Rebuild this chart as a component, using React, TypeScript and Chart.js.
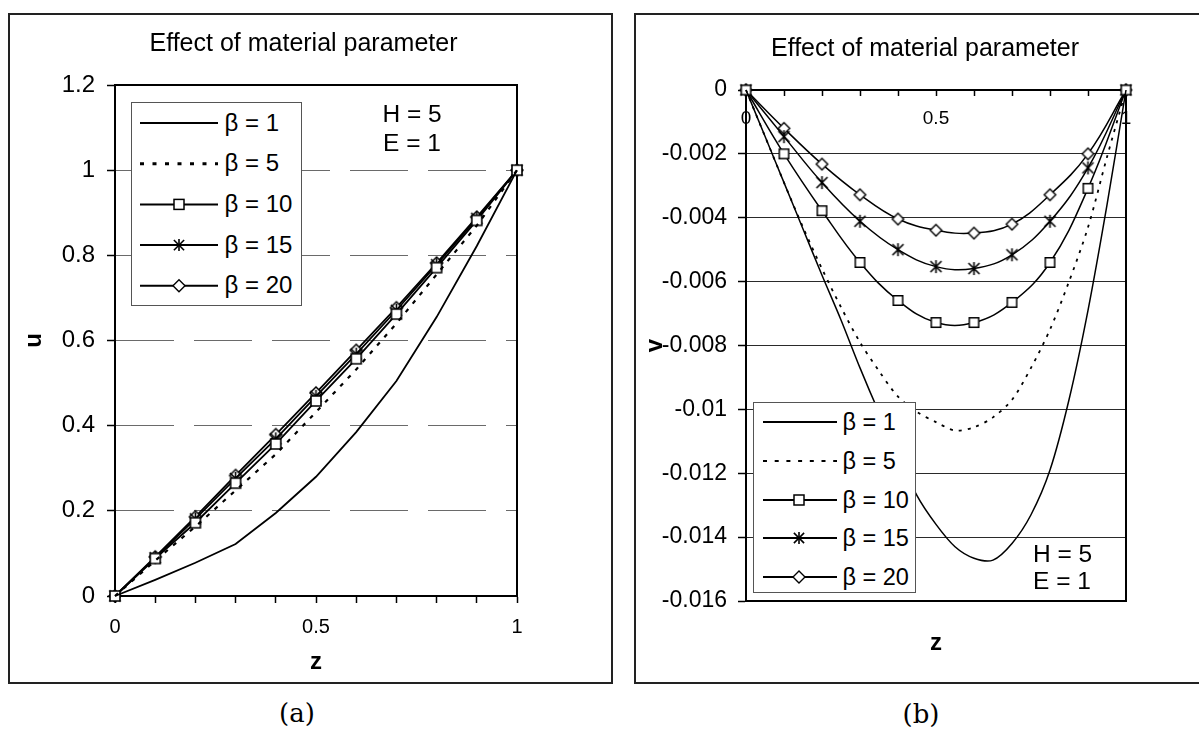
import React, { useEffect, useRef } from 'react';
import { Chart, registerables } from 'chart.js';

Chart.register(...registerables);

const FONT = "'Liberation Sans', Arial, Helvetica, sans-serif";
const TITLE = 'Effect of material parameter';
const SERIES_LABELS = ['β = 1', 'β = 5', 'β = 10', 'β = 15', 'β = 20'];

// ---- (a) u versus z ----
const Z_A = [0, 0.1, 0.2, 0.3, 0.4, 0.5, 0.6, 0.7, 0.8, 0.9, 1];
const U_B1 = [0, 0.038, 0.078, 0.122, 0.195, 0.28, 0.385, 0.505, 0.655, 0.822, 1];
const U_B5 = [0, 0.083, 0.163, 0.248, 0.333, 0.432, 0.532, 0.64, 0.755, 0.87, 1];
const U_B10 = [0, 0.088, 0.172, 0.265, 0.357, 0.458, 0.557, 0.662, 0.771, 0.882, 1];
const U_B15 = [0, 0.09, 0.181, 0.276, 0.369, 0.469, 0.568, 0.671, 0.778, 0.887, 1];
const U_B20 = [0, 0.092, 0.186, 0.283, 0.379, 0.477, 0.577, 0.677, 0.782, 0.89, 1];
const A_X_TICKS = [0, 0.1, 0.2, 0.3, 0.4, 0.5, 0.6, 0.7, 0.8, 0.9, 1];
const A_X_LABELS = ['0', '', '', '', '', '0.5', '', '', '', '', '1'];
const A_Y_TICKS = [0, 0.2, 0.4, 0.6, 0.8, 1, 1.2];
const A_Y_LABELS = ['0', '0.2', '0.4', '0.6', '0.8', '1', '1.2'];

// ---- (b) v versus z ----
const Z_B_FINE = [0, 0.05, 0.1, 0.15, 0.2, 0.25, 0.3, 0.35, 0.4, 0.45, 0.5, 0.55, 0.6, 0.65, 0.7, 0.75, 0.8, 0.85, 0.9, 0.95, 1];
const V_B1 = [0, -0.00145, -0.0029, -0.00435, -0.0058, -0.0072, -0.0087, -0.0101, -0.0114, -0.0127, -0.0136, -0.0143, -0.01466, -0.01472, -0.0142, -0.0133, -0.0119, -0.0097, -0.0069, -0.0036, 0];
const V_B5 = [0, -0.00145, -0.0029, -0.0043, -0.0056, -0.0068, -0.0079, -0.0088, -0.0096, -0.01008, -0.0104, -0.01066, -0.01056, -0.01025, -0.0097, -0.0087, -0.0075, -0.006, -0.0043, -0.0021, 0];
const Z_B = [0, 0.1, 0.2, 0.3, 0.4, 0.5, 0.6, 0.7, 0.8, 0.9, 1];
const V_B10 = [0, -0.002, -0.00378, -0.0054, -0.00659, -0.00728, -0.00728, -0.00665, -0.0054, -0.00308, 0];
const V_B15 = [0, -0.00146, -0.0029, -0.00411, -0.005, -0.00553, -0.00559, -0.00516, -0.00411, -0.00244, 0];
const V_B20 = [0, -0.0012, -0.00232, -0.00328, -0.00404, -0.00439, -0.00448, -0.0042, -0.00328, -0.002, 0];
const B_X_TICKS = [0, 0.1, 0.2, 0.3, 0.4, 0.5, 0.6, 0.7, 0.8, 0.9, 1];
const B_X_LABELS = ['0', '', '', '', '', '0.5', '', '', '', '', '1'];
const B_Y_TICKS = [0, -0.002, -0.004, -0.006, -0.008, -0.01, -0.012, -0.014, -0.016];
const B_Y_LABELS = ['0', '-0.002', '-0.004', '-0.006', '-0.008', '-0.01', '-0.012', '-0.014', '-0.016'];

const pts = (xs: number[], ys: number[]) => xs.map((x, i) => ({ x, y: ys[i] }));

function makeMarker(kind: string, size: number, lw: number): HTMLCanvasElement {
  const S = Math.ceil(size + lw + 4);
  const c = document.createElement('canvas');
  c.width = S;
  c.height = S;
  const ctx = c.getContext('2d') as CanvasRenderingContext2D;
  const m = S / 2;
  const h = size / 2;
  ctx.lineWidth = lw;
  ctx.strokeStyle = '#000';
  ctx.fillStyle = '#fff';
  ctx.beginPath();
  if (kind === 'square') {
    ctx.rect(m - h, m - h, size, size);
    ctx.fill();
    ctx.stroke();
  } else if (kind === 'diamond') {
    ctx.moveTo(m, m - h);
    ctx.lineTo(m + h, m);
    ctx.lineTo(m, m + h);
    ctx.lineTo(m - h, m);
    ctx.closePath();
    ctx.fill();
    ctx.stroke();
  } else {
    const d = h * 0.85;
    ctx.moveTo(m, m - h);
    ctx.lineTo(m, m + h);
    ctx.moveTo(m - d, m - d);
    ctx.lineTo(m + d, m + d);
    ctx.moveTo(m + d, m - d);
    ctx.lineTo(m - d, m + d);
    ctx.stroke();
  }
  return c;
}

const framePlugin = {
  id: 'plotFrame',
  beforeDatasetsDraw(chart: any) {
    const { ctx, chartArea: a } = chart;
    ctx.save();
    ctx.strokeStyle = '#000';
    ctx.lineWidth = 2;
    ctx.strokeRect(a.left, a.top, a.right - a.left, a.bottom - a.top);
    ctx.restore();
  },
};

function setTicks(values: number[]) {
  return (s: any) => {
    s.ticks = values.map((v) => ({ value: v }));
  };
}

function buildA(): any {
  const sq = makeMarker('square', 10, 1.6);
  const st = makeMarker('star', 13, 1.6);
  const di = makeMarker('diamond', 12, 1.5);
  const base = { borderColor: '#000', backgroundColor: '#000', borderWidth: 1.8, tension: 0, clip: false, xAxisID: 'x', yAxisID: 'y' };
  return {
    type: 'line',
    data: {
      datasets: [
        { ...base, label: SERIES_LABELS[0], data: pts(Z_A, U_B1), pointRadius: 0 },
        { ...base, label: SERIES_LABELS[1], data: pts(Z_A, U_B5), pointRadius: 0, borderDash: [4, 7], borderWidth: 2.2 },
        { ...base, label: SERIES_LABELS[2], data: pts(Z_A, U_B10), pointStyle: sq, pointRadius: 5 },
        { ...base, label: SERIES_LABELS[3], data: pts(Z_A, U_B15), pointStyle: st, pointRadius: 5 },
        { ...base, label: SERIES_LABELS[4], data: pts(Z_A, U_B20), pointStyle: di, pointRadius: 5 },
      ],
    },
    options: {
      responsive: false,
      animation: false,
      events: [],
      layout: { padding: { left: 0, right: 14, top: 0, bottom: 0 } },
      plugins: {
        legend: { display: false },
        tooltip: { enabled: false },
        title: {
          display: true,
          text: TITLE,
          color: '#000',
          font: { family: FONT, size: 25, weight: 'normal' },
          padding: { top: 16, bottom: 26 },
        },
      },
      scales: {
        x: {
          type: 'linear',
          position: 'bottom',
          min: 0,
          max: 1,
          afterBuildTicks: setTicks(A_X_TICKS),
          afterFit: (s: any) => { s.height = 88; },
          grid: { display: true, drawOnChartArea: false, drawTicks: true, tickLength: 7, tickColor: '#000', tickWidth: 1.5 },
          border: { display: true, color: '#000', width: 2 },
          ticks: {
            autoSkip: false, maxRotation: 0, padding: 12, color: '#000',
            font: { family: FONT, size: 20 },
            callback: (_v: any, i: number) => A_X_LABELS[i],
          },
          title: { display: true, text: 'z', color: '#000', font: { family: FONT, size: 24, weight: 'bold' }, padding: { top: 0, bottom: 7.6 } },
        },
        y: {
          type: 'linear',
          position: 'left',
          min: 0,
          max: 1.2,
          afterBuildTicks: setTicks(A_Y_TICKS),
          afterFit: (s: any) => { s.width = 107; },
          grid: { display: true, color: '#6a6a6a', lineWidth: 1, drawTicks: true, tickLength: 8, tickColor: '#000', tickWidth: 1.5 },
          border: { display: true, color: '#000', width: 2, dash: [58, 20] },
          ticks: {
            autoSkip: false, padding: 12, color: '#000',
            font: { family: FONT, size: 24 },
            callback: (_v: any, i: number) => A_Y_LABELS[i],
          },
          title: { display: true, text: 'u', color: '#000', font: { family: FONT, size: 24, weight: 'bold' }, padding: { top: 11.6, bottom: 0 } },
        },
        r: {
          type: 'linear',
          position: 'right',
          min: 0,
          max: 1,
          afterFit: (s: any) => { s.width = 82; },
          grid: { display: false },
          ticks: { display: false },
          border: { display: false },
        },
      },
    },
    plugins: [framePlugin],
  };
}

function buildB(): any {
  const sq = makeMarker('square', 9.5, 1.5);
  const st = makeMarker('star', 13, 1.6);
  const di = makeMarker('diamond', 11.5, 1.4);
  const base = { borderColor: '#000', backgroundColor: '#000', borderWidth: 1.5, clip: false, xAxisID: 'x', yAxisID: 'y' };
  return {
    type: 'line',
    data: {
      datasets: [
        { ...base, label: SERIES_LABELS[0], data: pts(Z_B_FINE, V_B1), pointRadius: 0, tension: 0.3 },
        { ...base, label: SERIES_LABELS[1], data: pts(Z_B_FINE, V_B5), pointRadius: 0, tension: 0.3, borderDash: [3, 6], borderWidth: 1.8 },
        { ...base, label: SERIES_LABELS[2], data: pts(Z_B, V_B10), pointStyle: sq, pointRadius: 5, tension: 0.4 },
        { ...base, label: SERIES_LABELS[3], data: pts(Z_B, V_B15), pointStyle: st, pointRadius: 5, tension: 0.4 },
        { ...base, label: SERIES_LABELS[4], data: pts(Z_B, V_B20), pointStyle: di, pointRadius: 5, tension: 0.4 },
      ],
    },
    options: {
      responsive: false,
      animation: false,
      events: [],
      layout: { padding: { left: 0, right: 0, top: 0, bottom: 0 } },
      plugins: {
        legend: { display: false },
        tooltip: { enabled: false },
        title: {
          display: true,
          text: TITLE,
          color: '#000',
          font: { family: FONT, size: 25, weight: 'normal' },
          padding: { top: 21, bottom: 26 },
        },
      },
      scales: {
        y: {
          type: 'linear',
          position: 'left',
          min: -0.016,
          max: 0,
          afterBuildTicks: setTicks(B_Y_TICKS),
          afterFit: (s: any) => { s.width = 112; },
          grid: { display: true, color: '#2a2a2a', lineWidth: 1, drawTicks: true, tickLength: 8, tickColor: '#000', tickWidth: 1.5 },
          border: { display: true, color: '#000', width: 2 },
          ticks: {
            autoSkip: false, padding: 11, color: '#000',
            font: { family: FONT, size: 23 },
            callback: (_v: any, i: number) => B_Y_LABELS[i],
          },
          title: { display: true, text: 'v', color: '#000', font: { family: FONT, size: 24, weight: 'bold' }, padding: { top: 6.6, bottom: 0 } },
        },
        x: {
          type: 'linear',
          position: { y: 0 },
          min: 0,
          max: 1,
          afterBuildTicks: setTicks(B_X_TICKS),
          grid: { display: true, drawOnChartArea: false, drawTicks: true, tickLength: 5, tickColor: '#000', tickWidth: 1.5 },
          border: { display: true, color: '#000', width: 2 },
          ticks: {
            autoSkip: false, maxRotation: 0, padding: 12.6, color: '#000',
            font: { family: FONT, size: 19 },
            callback: (_v: any, i: number) => B_X_LABELS[i],
          },
        },
        x2: {
          type: 'linear',
          position: 'bottom',
          min: 0,
          max: 1,
          afterFit: (s: any) => { s.height = 83; },
          grid: { display: false },
          ticks: { display: false },
          border: { display: false },
          title: { display: true, text: 'z', color: '#000', font: { family: FONT, size: 24, weight: 'bold' }, padding: { top: 0, bottom: 26.6 } },
        },
        r: {
          type: 'linear',
          position: 'right',
          min: 0,
          max: 1,
          afterFit: (s: any) => { s.width = 90; },
          grid: { display: false },
          ticks: { display: false },
          border: { display: false },
        },
      },
    },
    plugins: [framePlugin],
  };
}

type Row = { label: string; kind: string; dashed: boolean };
const LEGEND_ROWS: Row[] = [
  { label: SERIES_LABELS[0], kind: 'none', dashed: false },
  { label: SERIES_LABELS[1], kind: 'none', dashed: true },
  { label: SERIES_LABELS[2], kind: 'square', dashed: false },
  { label: SERIES_LABELS[3], kind: 'star', dashed: false },
  { label: SERIES_LABELS[4], kind: 'diamond', dashed: false },
];

function MarkerSvg({ kind, cx, cy, size }: { kind: string; cx: number; cy: number; size: number }) {
  const h = size / 2;
  if (kind === 'square') return <rect x={cx - h} y={cy - h} width={size} height={size} fill="#fff" stroke="#000" strokeWidth={1.5} />;
  if (kind === 'diamond')
    return <polygon points={`${cx},${cy - h} ${cx + h},${cy} ${cx},${cy + h} ${cx - h},${cy}`} fill="#fff" stroke="#000" strokeWidth={1.4} />;
  if (kind === 'star') {
    const d = h * 0.85;
    return (
      <g stroke="#000" strokeWidth={1.6}>
        <line x1={cx} y1={cy - h} x2={cx} y2={cy + h} />
        <line x1={cx - d} y1={cy - d} x2={cx + d} y2={cy + d} />
        <line x1={cx + d} y1={cy - d} x2={cx - d} y2={cy + d} />
      </g>
    );
  }
  return null;
}

function Legend(props: {
  left: number; top: number; width: number; height: number; rowY: number[];
  x1: number; x2: number; mx: number; tx: number; fontSize: number; lw: number; dash: string; dashW: number;
}) {
  const p = props;
  return (
    <div style={{ position: 'absolute', left: p.left, top: p.top, width: p.width, height: p.height, boxSizing: 'border-box', border: '1.5px solid #555', background: '#fff', zIndex: 3 }}>
      <svg width={p.width} height={p.height} style={{ position: 'absolute', left: -1.5, top: -1.5 }}>
        {LEGEND_ROWS.map((r, i) => (
          <g key={i}>
            <line x1={p.x1} y1={p.rowY[i]} x2={p.x2} y2={p.rowY[i]} stroke="#000" strokeWidth={r.dashed ? p.dashW : p.lw} strokeDasharray={r.dashed ? p.dash : undefined} />
            <MarkerSvg kind={r.kind} cx={p.mx} cy={p.rowY[i]} size={r.kind === 'square' ? 10 : 12} />
          </g>
        ))}
      </svg>
      {LEGEND_ROWS.map((r, i) => (
        <div key={i} style={{ position: 'absolute', left: p.tx - 1.5, top: p.rowY[i] - 15 - 1.5, height: 30, lineHeight: '30px', fontFamily: FONT, fontSize: p.fontSize, color: '#000', whiteSpace: 'nowrap' }}>
          {r.label}
        </div>
      ))}
    </div>
  );
}

export default function App() {
  const refA = useRef<HTMLCanvasElement>(null);
  const refB = useRef<HTMLCanvasElement>(null);

  useEffect(() => {
    const a = new Chart(refA.current as HTMLCanvasElement, buildA());
    const b = new Chart(refB.current as HTMLCanvasElement, buildB());
    return () => {
      a.destroy();
      b.destroy();
    };
  }, []);

  const annot = { position: 'absolute' as const, fontFamily: FONT, fontSize: 24.5, color: '#000', zIndex: 3, whiteSpace: 'nowrap' as const };
  const caption = { position: 'absolute' as const, width: 100, textAlign: 'center' as const, fontFamily: "'DejaVu Serif', 'Liberation Serif', serif", fontSize: 26, lineHeight: '30px', color: '#000' };

  return (
    <div>
      {/* (a) */}
      <div style={{ position: 'absolute', left: 8, top: 13, width: 605, height: 671, boxSizing: 'border-box', border: '2px solid #222' }} />
      <canvas ref={refA} width={605} height={671} style={{ position: 'absolute', left: 8, top: 13, width: 605, height: 671, zIndex: 1 }} />
      <Legend left={131} top={102} width={171} height={204} rowY={[21, 61.7, 102.4, 143.1, 183.8]}
        x1={9} x2={87} mx={48} tx={94} fontSize={24} lw={2} dash="4 8.5" dashW={3} />
      <div style={{ ...annot, left: 362, top: 98.5, width: 100, textAlign: 'center', lineHeight: '29px' }}>
        <div>H = 5</div>
        <div>E = 1</div>
      </div>
      <div style={{ ...caption, left: 247, top: 698 }}>(a)</div>

      {/* (b) */}
      <div style={{ position: 'absolute', left: 634, top: 13, width: 565, height: 671, overflow: 'hidden' }}>
        <div style={{ position: 'absolute', left: 0, top: 0, width: 620, height: 671, boxSizing: 'border-box', border: '2px solid #222' }} />
        <canvas ref={refB} width={582} height={671} style={{ position: 'absolute', left: 0, top: 0, width: 582, height: 671, zIndex: 1 }} />
      </div>
      <Legend left={753} top={402} width={163} height={191} rowY={[20, 59, 98, 136, 175]}
        x1={10} x2={84} mx={46} tx={90} fontSize={23.5} lw={1.8} dash="4 7.7" dashW={2} />
      <div style={{ ...annot, left: 1033, top: 539.5, lineHeight: '27px' }}>
        <div>H = 5</div>
        <div>E = 1</div>
      </div>
      <div style={{ ...caption, left: 871, top: 699 }}>(b)</div>
    </div>
  );
}
